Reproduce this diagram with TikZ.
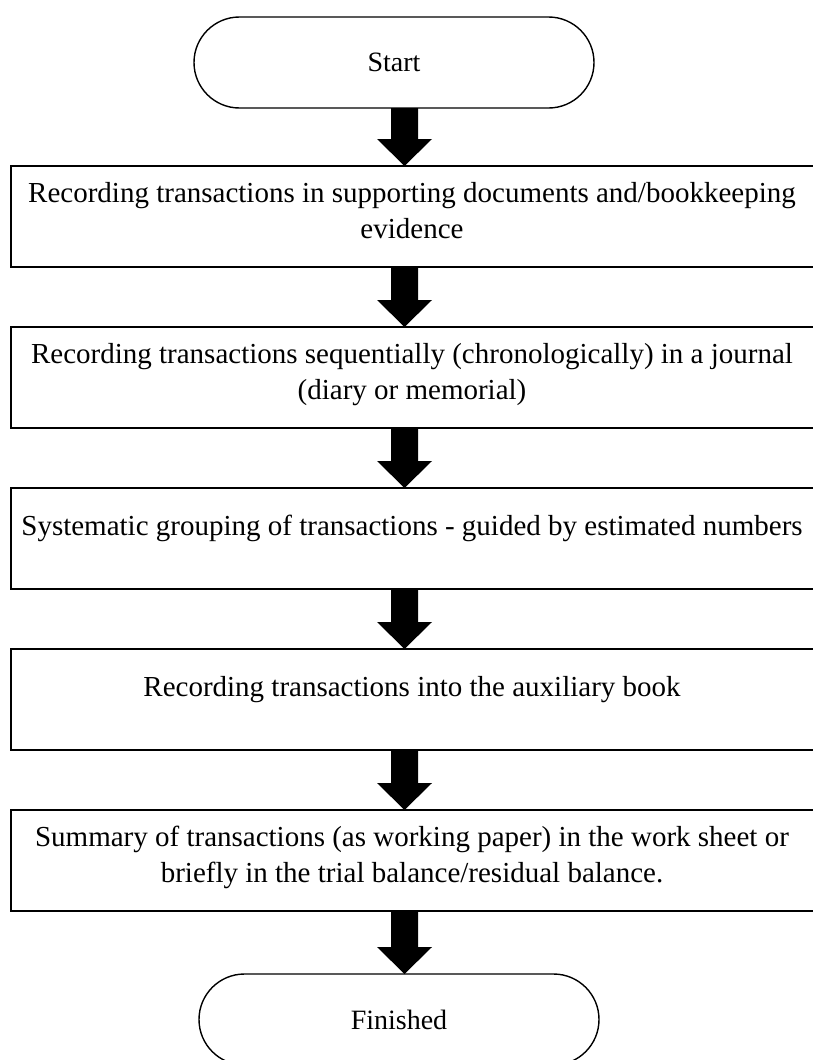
\documentclass[tikz,border=0pt]{standalone}
\usepackage{fontspec}
\setmainfont{Liberation Serif}
\usetikzlibrary{shapes.misc,calc}
\newcommand\fatarrow[2]{\fill let \p1=(axis |- #1.south), \p2=(axis |- #2.north) in
  (\x1-13.5pt,\y1) -- (\x1+13.5pt,\y1) -- (\x1+13.5pt,\y2+27pt) -- (\x1+27.5pt,\y2+27pt)
  -- (\x2,\y2) -- (\x1-27.5pt,\y2+27pt) -- (\x1-13.5pt,\y2+27pt) -- cycle;}
\begin{document}
\begin{tikzpicture}[x=1pt,y=-1pt,
  boxnode/.style={draw, line width=2.2pt, rectangle, inner sep=0pt, outer sep=0pt,
    minimum width=804pt, minimum height=101pt, anchor=north west},
  termnode/.style={draw, line width=1.4pt, rounded rectangle, minimum width=400pt,
    minimum height=91pt, inner sep=0pt, outer sep=0pt, font=\fontsize{28}{36}\selectfont},
  txt/.style={anchor=base, inner sep=0pt, font=\fontsize{29}{36}\selectfont}]
\useasboundingbox (0,0) rectangle (813,1060);
\clip (0,0) rectangle (813,1060);
\coordinate (axis) at (404.5,0);
\node[termnode] (start) at (394,62.5) {Start};
\node[boxnode] (b1) at (11,166) {};
\node[boxnode] (b2) at (11,327) {};
\node[boxnode] (b3) at (11,488) {};
\node[boxnode] (b4) at (11,649) {};
\node[boxnode] (b5) at (11,810) {};
\node[termnode] (fin) at (399,1019.5) {Finished};
\node[txt] (t1a) at (412,202) {Recording transactions in supporting documents and/bookkeeping};
\node[txt] (t1b) at (412,238) {evidence};
\node[txt] (t2a) at (412,363) {Recording transactions sequentially (chronologically) in a journal};
\node[txt] (t2b) at (412,399) {(diary or memorial)};
\node[txt] (t3) at (412,535) {Systematic grouping of transactions - guided by estimated numbers};
\node[txt] (t4) at (412,696) {Recording transactions into the auxiliary book};
\node[txt] (t5a) at (412,846) {Summary of transactions (as working paper) in the work sheet or};
\node[txt] (t5b) at (412,882) {briefly in the trial balance/residual balance.};
\fatarrow{start}{b1}
\fatarrow{b1}{b2}
\fatarrow{b2}{b3}
\fatarrow{b3}{b4}
\fatarrow{b4}{b5}
\fatarrow{b5}{fin}
\end{tikzpicture}
\end{document}
